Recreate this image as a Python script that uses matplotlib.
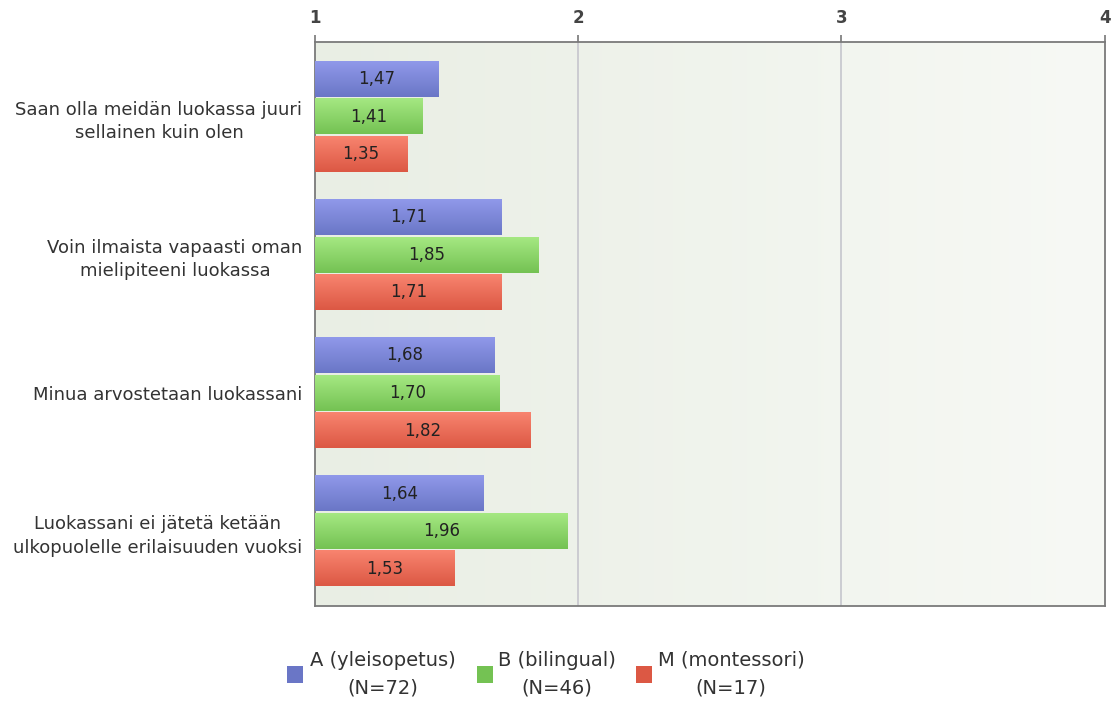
import matplotlib.pyplot as plt
import matplotlib.colors as mcolors
from matplotlib.patches import Rectangle
import numpy as np

# survey statements and mean answers per school group
questions = ['Saan olla meidän luokassa juuri\nsellainen kuin olen',
             'Voin ilmaista vapaasti oman\nmielipiteeni luokassa',
             'Minua arvostetaan luokassani',
             'Luokassani ei jätetä ketään\nulkopuolelle erilaisuuden vuoksi']
groups = ['A (yleisopetus)\n(N=72)', 'B (bilingual)\n(N=46)', 'M (montessori)\n(N=17)']
group_a = [1.47, 1.71, 1.68, 1.64]
group_b = [1.41, 1.85, 1.70, 1.96]
group_m = [1.35, 1.71, 1.82, 1.53]
x_ticks = [1, 2, 3, 4]

top_colors = ['#9099ea', '#a5e882', '#f8846f']
bottom_colors = ['#6a76c6', '#74c253', '#dc5844']

fig = plt.figure(figsize=(11.17, 7.02), dpi=100)
ax = fig.add_axes([0.282, 0.137, 0.707, 0.803])

ylo, yhi = 3.54, -0.54

# soft background gradient, greener on the left
grad = np.linspace(0, 1, 256).reshape(1, -1)
c0 = np.array([233, 238, 228]) / 255.0
c1 = np.array([247, 249, 245]) / 255.0
bg = c0[None, None, :] * (1 - grad[..., None]) + c1[None, None, :] * grad[..., None]
ax.imshow(bg, extent=[1, 4, ylo, yhi], aspect='auto', zorder=0)

for xv in [2, 3]:
    ax.axvline(xv, color='#c9c9cf', lw=1.3, zorder=1)

y = np.arange(len(questions))
h = 0.255
off = 0.272
for k, vals in enumerate([group_a, group_b, group_m]):
    widths = [v - 1 for v in vals]
    bars = ax.barh(y + (k - 1) * off, widths, height=h, left=1,
                   color=top_colors[k], zorder=2)
    ct = np.array(mcolors.to_rgb(top_colors[k]))
    cb = np.array(mcolors.to_rgb(bottom_colors[k]))
    shade = np.linspace(0, 1, 64).reshape(-1, 1)
    img = ct[None, None, :] * (1 - shade[..., None]) + cb[None, None, :] * shade[..., None]
    for b, v in zip(bars, vals):
        x0, y0 = b.get_x(), b.get_y()
        w, hh = b.get_width(), b.get_height()
        ax.imshow(img, extent=[x0, x0 + w, y0 + hh, y0], aspect='auto', zorder=3)
        ax.text(x0 + w / 2, y0 + hh / 2, f'{v:.2f}'.replace('.', ','),
                ha='center', va='center', fontsize=12, color='#222222', zorder=4)

ax.set_xlim(1, 4)
ax.set_ylim(ylo, yhi)

ax.xaxis.tick_top()
ax.set_xticks(x_ticks)
ax.set_xticklabels([str(t) for t in x_ticks], fontsize=12, color='#444444', fontweight='bold')
ax.tick_params(axis='x', length=5, width=1.2, color='#777777', pad=6)
ax.set_yticks(y)
ax.set_yticklabels(questions, fontsize=13, color='#333333', multialignment='center',
                   linespacing=1.4)
ax.tick_params(axis='y', length=0, pad=9)
for s in ax.spines.values():
    s.set_color('#7a7a7a')
    s.set_linewidth(1.3)

# legend drawn by hand: square plus two centred lines of text
sq_x = [0.2569, 0.427, 0.5694]
txt_x = [0.2775, 0.4458, 0.589]
for k in range(3):
    fig.patches.append(Rectangle((sq_x[k], 0.0271), 0.0147, 0.0235,
                                 transform=fig.transFigure, facecolor=bottom_colors[k],
                                 edgecolor='none'))
    fig.text(txt_x[k], 0.0399, groups[k], ha='left', va='center', fontsize=14,
             color='#333333', multialignment='center', linespacing=1.55)

fig.savefig('out.png', dpi=100)
